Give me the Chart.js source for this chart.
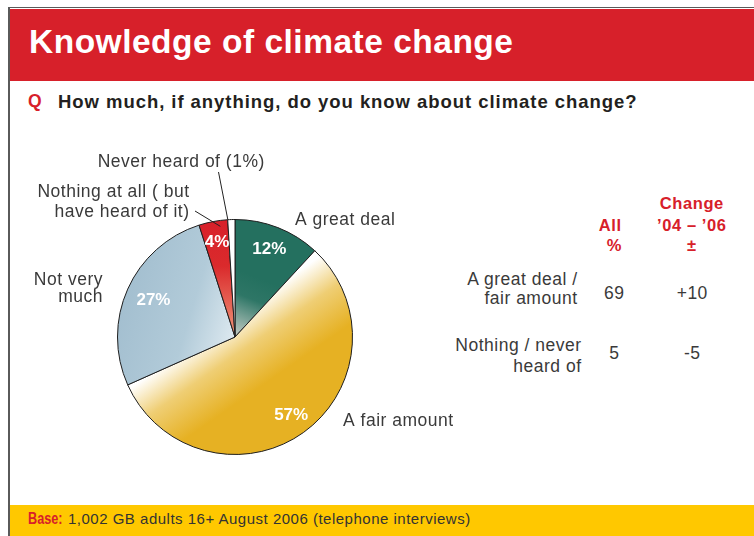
<!DOCTYPE html>
<html>
<head>
<meta charset="utf-8">
<script src="https://cdn.jsdelivr.net/npm/chart.js@4.4.0/dist/chart.umd.min.js"></script>
<style>
  html, body { margin: 0; padding: 0; background: #fff; }
  #page { position: relative; width: 754px; height: 536px; overflow: hidden; font-family: "Liberation Sans", Arial, sans-serif; }
  #frame { position: absolute; left: 8px; top: 7px; width: 746px; height: 529px; border-left: 2px solid #5a5a5a; border-top: 1px solid #5a5a5a; }
  #header { position: absolute; left: 10px; top: 9px; width: 744px; height: 72px; background: #D7202A; }
  #footer { position: absolute; left: 10px; top: 505px; width: 744px; height: 31px; background: #FFC800; }
  .t { position: absolute; white-space: nowrap; }
  canvas { position: absolute; left: 0; top: 0; }
</style>
</head>
<body>
<div id="page">
  <div id="frame"></div>
  <div id="header"></div>
  <div id="footer"></div>
  <div id="texts"></div>
  <canvas id="pie" width="754" height="536"></canvas>
</div>
<script>
// ---- survey data ----
const categories = ['A great deal', 'A fair amount', 'Not very much', 'Nothing at all ( but have heard of it)', 'Never heard of'];
const shares = [12, 57, 27, 4, 1];

// wrapped label lines for each slice, as printed beside the pie
const outerLabelLines = [
  ['A great deal'],
  ['A fair amount'],
  ['Not very', 'much'],
  ['Nothing at all ( but', 'have heard of it)'],
  ['Never heard of (' + shares[4] + '%)']
];

// summary table
const tableRowLines = [['A great deal /', 'fair amount'], ['Nothing / never', 'heard of']];
const allPercent = [69, 5];
const change0406 = ['+10', '-5'];
const allHeadLines = ['All', '%'];
const changeHeadLines = ['Change', '\u201904 \u2013 \u201906', '\u00b1'];

const titleText = 'Knowledge of climate change';
const questionText = 'How much, if anything, do you know about climate change?';
const baseText = '1,002 GB adults 16+ August 2006 (telephone interviews)';

// ---- styles ----
const RED = '#D7202A';
const INK = '#3a3a3a';
const SANS = '"Liberation Sans", Arial, sans-serif';

// ---- html text helper (x, baseline) ----
const texts = document.getElementById('texts');
function put(text, x, baseline, o) {
  const d = document.createElement('div');
  d.className = 't';
  d.textContent = text;
  const fs = o.size, ls = o.ls || 0;
  d.style.fontSize = fs + 'px';
  d.style.lineHeight = fs + 'px';
  d.style.fontFamily = SANS;
  d.style.fontWeight = o.bold ? '700' : '400';
  d.style.color = o.color || INK;
  d.style.letterSpacing = ls + 'px';
  d.style.top = (baseline - 0.8465 * fs) + 'px';
  const align = o.align || 'left';
  if (align === 'left') {
    d.style.left = x + 'px';
    if (o.sx) { d.style.transformOrigin = '0 0'; d.style.transform = 'scaleX(' + o.sx + ')'; }
  } else if (align === 'right') d.style.right = (754 - x - ls) + 'px';
  else { d.style.left = (x + ls / 2) + 'px'; d.style.transform = 'translateX(-50%)'; }
  texts.appendChild(d);
}

// heading, question, base
put(titleText, 29, 53.3, { size: 33.5, bold: true, color: '#fff', ls: 0.5 });
put('Q', 28, 108.3, { size: 17.5, bold: true, color: RED });
put(questionText, 58, 108.3, { size: 18.5, bold: true, color: '#231f20', ls: 0.95 });
put('Base:', 28, 524.5, { size: 16, bold: true, color: RED, sx: 0.79 });
put(baseText, 68, 524, { size: 15, color: '#333', ls: 0.5 });

// table headers
const headBase = [208.5, 230.5, 251];
put(allHeadLines[0], 610, headBase[1], { size: 16.5, bold: true, color: RED, align: 'center', ls: 0.6 });
put(allHeadLines[1], 614, headBase[2], { size: 16.5, bold: true, color: RED, align: 'center' });
changeHeadLines.forEach((s, i) => put(s, 691.5, headBase[i], { size: 16.5, bold: true, color: RED, align: 'center', ls: 0.6 }));

// table rows
const rowLayout = [
  { right: 577, lines: [285.7, 305], value: 300 },
  { right: 581, lines: [352.3, 372.7], value: 360 }
];
tableRowLines.forEach((lines, r) => {
  const L = rowLayout[r];
  lines.forEach((s, k) => put(s, L.right, L.lines[k], { size: 17.5, align: 'right', ls: 0.5 }));
  put(String(allPercent[r]), 614, L.value, { size: 17.5, align: 'center', ls: 0.5 });
  put(change0406[r], 692, L.value, { size: 17.5, align: 'center', ls: 0.5 });
});

// ---- slice fills ----
function sliceFill(ctx) {
  const chart = ctx.chart, area = chart.chartArea, i = ctx.dataIndex;
  const solid = ['#24705F', '#E6B123', '#A6C2D3', '#D8202A', '#ffffff'][i];
  if (!area) return solid;
  const g = chart.ctx;
  const cx = (area.left + area.right) / 2, cy = (area.top + area.bottom) / 2;
  const r = Math.min(area.width, area.height) / 2;
  let grad;
  if (i === 0) {
    grad = g.createLinearGradient(cx + 0.2 * r, cy - 0.5 * r, cx, cy);
    grad.addColorStop(0, '#24705F');
    grad.addColorStop(0.35, '#2E7666');
    grad.addColorStop(1, '#C9CFC9');
  } else if (i === 1) {
    const nx = 0.571, ny = 0.821;
    const x0 = cx - 0.086 * r, y0 = cy - 0.124 * r;
    grad = g.createLinearGradient(x0, y0, x0 + nx * 0.62 * r, y0 + ny * 0.62 * r);
    grad.addColorStop(0, '#FFFFFF');
    grad.addColorStop(0.45, '#EFCE74');
    grad.addColorStop(1, '#E6B123');
  } else if (i === 2) {
    grad = g.createLinearGradient(cx - r, cy - 0.3 * r, cx, cy);
    grad.addColorStop(0, '#A2BECF');
    grad.addColorStop(0.6, '#B2CBD9');
    grad.addColorStop(1, '#DDE9F0');
  } else if (i === 3) {
    grad = g.createLinearGradient(cx, cy - r, cx, cy);
    grad.addColorStop(0, '#D8202A');
    grad.addColorStop(0.4, '#DA2A2C');
    grad.addColorStop(1, '#F0977A');
  } else {
    return solid;
  }
  return grad;
}

// ---- label layout ----
const pctLabelRadius = [0.80, 0.82, 0.76, 0.82];
const outerLabelLayout = [
  { x: 295, base: [225], align: 'left' },
  { x: 343, base: [426], align: 'left' },
  { x: 102.5, base: [285, 301.7], align: 'right' },
  { x: 189, base: [196.7, 216.5], align: 'right', leader: { from: [195, 211], t: 0.72, rf: 0.95 } },
  { x: 181, base: [166.7], align: 'center', leader: { from: [218.5, 172], t: 0.02, rf: 1.0 } }
];

const sliceLabelPlugin = {
  id: 'sliceLabels',
  afterDatasetsDraw(chart) {
    const g = chart.ctx;
    const arcs = chart.getDatasetMeta(0).data;
    g.save();
    // percentage inside slices
    g.font = 'bold 17px ' + SANS;
    g.fillStyle = '#ffffff';
    g.textAlign = 'center';
    g.textBaseline = 'middle';
    pctLabelRadius.forEach((f, i) => {
      const a = arcs[i];
      const mid = (a.startAngle + a.endAngle) / 2;
      const x = a.x + Math.cos(mid) * a.outerRadius * f;
      const y = a.y + Math.sin(mid) * a.outerRadius * f;
      g.fillText(shares[i] + '%', x, y);
    });
    // category names and leader lines
    g.font = '17.5px ' + SANS;
    g.fillStyle = INK;
    g.textBaseline = 'alphabetic';
    if ('letterSpacing' in g) g.letterSpacing = '0.5px';
    outerLabelLines.forEach((lines, i) => {
      const L = outerLabelLayout[i];
      g.textAlign = L.align;
      const dx = L.align === 'right' ? 0.5 : (L.align === 'center' ? 0.25 : 0);
      lines.forEach((s, k) => g.fillText(s, L.x + dx, L.base[k]));
      if (L.leader) {
        const a = arcs[i];
        const ang = a.startAngle + L.leader.t * (a.endAngle - a.startAngle);
        const ex = a.x + Math.cos(ang) * a.outerRadius * L.leader.rf;
        const ey = a.y + Math.sin(ang) * a.outerRadius * L.leader.rf;
        g.beginPath();
        g.moveTo(L.leader.from[0], L.leader.from[1]);
        g.lineTo(ex, ey);
        g.strokeStyle = '#222';
        g.lineWidth = 1;
        g.stroke();
      }
    });
    g.restore();
  }
};

new Chart(document.getElementById('pie'), {
  type: 'pie',
  data: {
    labels: categories,
    datasets: [{
      data: shares,
      backgroundColor: sliceFill,
      borderColor: '#1e1e1e',
      borderWidth: 1
    }]
  },
  options: {
    responsive: false,
    animation: false,
    events: [],
    layout: { padding: { left: 117, right: 401, top: 219, bottom: 81 } },
    plugins: { legend: { display: false }, tooltip: { enabled: false } }
  },
  plugins: [sliceLabelPlugin]
});
</script>
</body>
</html>
